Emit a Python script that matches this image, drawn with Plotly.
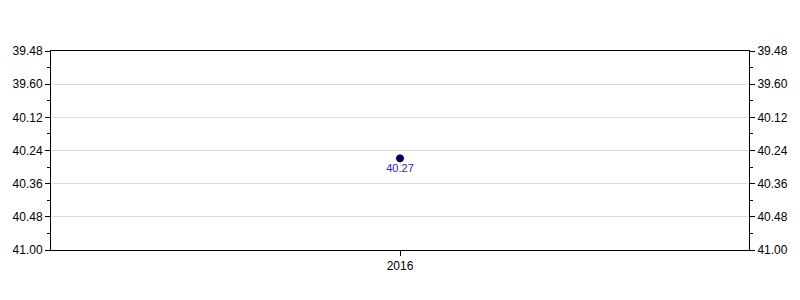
import plotly.graph_objects as go

categories = ["2016"]
values = [40.27]
value_labels = ["40.27"]
y_tick_labels = ["39.48", "39.60", "40.12", "40.24", "40.36", "40.48", "41.00"]

y_lo, y_hi = 39.45, 40.97
n = len(y_tick_labels)
step = (y_hi - y_lo) / (n - 1)
tickvals = [y_lo + i * step for i in range(n)]
minorvals = [y_lo + (i + 0.5) * step for i in range(n - 1)]

fig = go.Figure()
fig.add_trace(go.Scatter(
    x=categories, y=values, mode="markers+text",
    text=value_labels, textposition="bottom center",
    textfont=dict(color="#2b2b9e", size=11, family="Liberation Sans, Arial"),
    marker=dict(color="#000080", size=7, line=dict(color="#000000", width=1)),
    showlegend=False, cliponaxis=False,
))
# invisible trace to activate right axis
fig.add_trace(go.Scatter(x=categories, y=values, yaxis="y2", mode="markers",
                         marker=dict(opacity=0), showlegend=False, hoverinfo="skip"))

yax = dict(
    range=[y_hi, y_lo], tickmode="array", tickvals=tickvals, ticktext=y_tick_labels,
    ticks="outside", ticklen=5, tickcolor="#000", showline=True, linecolor="#000",
    linewidth=1, showgrid=True, gridcolor="#dcdcdc", gridwidth=1, zeroline=False,
    tickfont=dict(size=12, color="#000", family="Liberation Sans, Arial"),
    minor=dict(tickmode="array", tickvals=minorvals, ticks="outside", ticklen=3,
               tickcolor="#000", showgrid=False),
)
fig.update_layout(
    width=800, height=300,
    margin=dict(l=51, r=49, t=51, b=50),
    paper_bgcolor="white", plot_bgcolor="white",
    xaxis=dict(type="category", ticks="outside", ticklen=5, tickcolor="#000",
               showline=True, linecolor="#000", mirror=True, showgrid=False,
               ticklabelstandoff=0,
               tickfont=dict(size=12, color="#000", family="Liberation Sans, Arial")),
    yaxis=dict(**yax, mirror=False),
    yaxis2=dict(**yax, overlaying="y", side="right"),
)
fig.write_html("out.html")
